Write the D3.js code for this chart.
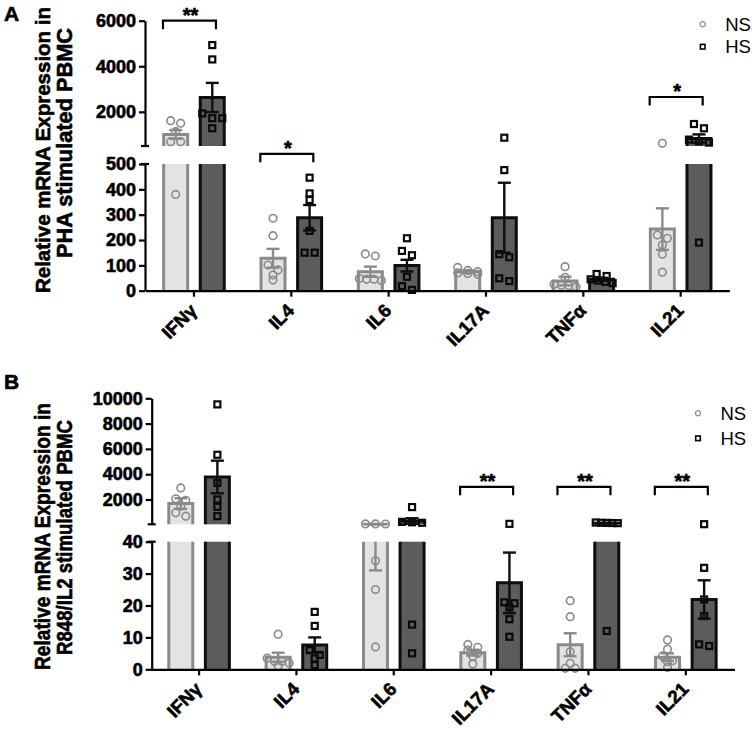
<!DOCTYPE html>
<html>
<head>
<meta charset="utf-8">
<script src="https://cdn.jsdelivr.net/npm/d3@7"></script>
<style>
  body { margin: 0; background: #fff; }
  svg { display: block; font-family: Arial, "Liberation Sans", Helvetica, sans-serif; }
  .heavy { stroke: #000; stroke-width: 0.6px; }
</style>
</head>
<body>
<div id="chart"></div>
<script>
// categories
var cytokines = ['IFNγ', 'IL4', 'IL6', 'IL17A', 'TNFα', 'IL21'];
var groupNames = ['NS', 'HS'];

// panel A - PHA stimulated PBMC
var phaNsMean = [1010, 128, 75, 75, 38, 243];
var phaNsSem  = [190, 37, 20, 5, 17, 82];
var phaHsMean = [2630, 288, 99, 288, 45, 830];
var phaHsSem  = [640, 50, 23, 138, 6, 180];
var phaNsPoints = [
  [1610, 1500, 690, 690, 1130, 380],
  [286, 217, 101, 82, 62, 42],
  [145, 137, 45, 45, 40, 48],
  [92, 70, 75, 68, 80, 65],
  [95, 53, 20, 25, 15, 22],
  [618, 207, 220, 180, 144, 73]
];
var phaHsPoints = [
  [4930, 4300, 1930, 1720, 1720, 1280],
  [446, 384, 358, 236, 150, 150],
  [207, 157, 140, 55, 18, 3],
  [864, 476, 144, 132, 38, 49],
  [66, 58, 45, 40, 30, 35],
  [1277, 1466, 780, 700, 650, 190]
];
var phaUpperTicks = [2000, 4000, 6000];
var phaLowerTicks = [0, 100, 200, 300, 400, 500];
var phaSigCats  = ['IFNγ', 'IL4', 'IL21'];
var phaSigStars = ['**', '*', '*'];
var phaSigLevel = [6000, 540, 2650];
var phaSigSeg   = ['upper', 'lower', 'upper'];

// panel B - R848/IL2 stimulated PBMC
var rNsMean = [1680, 3.8, 45, 5.2, 7.7, 3.8];
var rNsSem  = [420, 1.4, 14, 0.9, 3.6, 1.2];
var rHsMean = [3780, 7.6, 300, 27.1, 130, 21.9];
var rHsSem  = [1290, 2.4, 220, 9.5, 25, 6];
var rNsPoints = [
  [2917, 2050, 1940, 1470, 951, 684],
  [11, 3.5, 2, 1, 2.5, 2.5],
  [70, 65, 68, 34, 25, 7],
  [6.9, 7.8, 6, 4, 1.7, 5],
  [21.5, 16.5, 5.5, 1.9, 0.3, 0.3],
  [9.2, 6.3, 4.2, 2.4, 2.7, 0.6]
];
var rHsPoints = [
  [9520, 5536, 3311, 2000, 1420, 685],
  [18, 13.6, 6, 4.5, 3.4, 1.3],
  [1400, 230, 200, 160, 14, 5],
  [75, 21, 20.7, 19.4, 15.7, 10.2],
  [180, 150, 130, 160, 140, 12],
  [50, 31.8, 21.9, 16.7, 7.3, 7.8]
];
var rUpperTicks = [2000, 4000, 6000, 8000, 10000];
var rLowerTicks = [0, 10, 20, 30, 40];
var rSigCats  = ['IL17A', 'TNFα', 'IL21'];
var rSigStars = ['**', '**', '**'];
var rSigLevel = [3000, 3000, 3000];
var rSigSeg   = ['upper', 'upper', 'upper'];

var W = 756, H = 732;
var svg = d3.select('#chart').append('svg')
  .attr('width', W).attr('height', H);

var panels = [
  {
    tag: 'A', tagY: 21,
    title: ['Relative mRNA Expression in', 'PHA stimulated PBMC'],
    titleSize: [21, 22.5], titleX: [50, 72], titleY: [150, 143], titleLen: [286, 230],
    ns: [phaNsMean, phaNsSem, phaNsPoints], hs: [phaHsMean, phaHsSem, phaHsPoints],
    upper: { domain: [500, 6000], range: [146, 20.7], ticks: phaUpperTicks },
    lower: { domain: [0, 500], range: [290.7, 164], ticks: phaLowerTicks },
    bandStart: 145.3, step: 97.34, axisX: 145,
    sig: [phaSigCats, phaSigStars, phaSigLevel, phaSigSeg],
    legendX: 702.7, legendY: 24.3, legendGap: 22.4
  },
  {
    tag: 'B', tagY: 389,
    title: ['Relative mRNA Expression in', 'R848/IL2 stimulated PBMC'],
    titleSize: [21.5, 21.5], titleX: [50, 71.7], titleY: [536.5, 537.5], titleLen: [267, 235],
    ns: [rNsMean, rNsSem, rNsPoints], hs: [rHsMean, rHsSem, rHsPoints],
    upper: { domain: [40, 10000], range: [524.3, 398.3], ticks: rUpperTicks },
    lower: { domain: [0, 40], range: [669.3, 541.7], ticks: rLowerTicks },
    bandStart: 150.4, step: 97.35, axisX: 151.7,
    sig: [rSigCats, rSigStars, rSigLevel, rSigSeg],
    legendX: 698, legendY: 413.3, legendGap: 25
  }
];

var groupStyle = {
  NS: { dx: -18.3, fill: '#e3e3e3', stroke: '#8a8a8a' },
  HS: { dx: 18.3, fill: '#5c5c5c', stroke: '#0e0e0e' }
};
var barW = 24;

panels.forEach(drawPanel);

function drawPanel(p) {
  var g = svg.append('g');

  var x = d3.scaleBand()
    .domain(cytokines)
    .range([p.bandStart, p.bandStart + p.step * cytokines.length]);

  var segs = {
    lower: { min: p.lower.domain[0], max: p.lower.domain[1],
             y: d3.scaleLinear().domain(p.lower.domain).range(p.lower.range) },
    upper: { min: p.upper.domain[0], max: p.upper.domain[1],
             y: d3.scaleLinear().domain(p.upper.domain).range(p.upper.range) }
  };
  var segList = [segs.lower, segs.upper];
  function yv(v) { return v <= segs.lower.max ? segs.lower.y(v) : segs.upper.y(v); }
  function cx(cat, grp) { return x(cat) + x.bandwidth() / 2 + groupStyle[grp].dx; }

  // ---- bars
  var barPieces = [];
  groupNames.forEach(function(grp) {
    var mean = (grp === 'NS' ? p.ns : p.hs)[0];
    cytokines.forEach(function(cat, i) {
      segList.forEach(function(s) {
        if (mean[i] <= s.min) return;
        var top = Math.min(mean[i], s.max);
        barPieces.push({ grp: grp, cx: cx(cat, grp), y0: s.y(s.min), y1: s.y(top), closed: mean[i] <= s.max });
      });
    });
  });

  g.selectAll('rect.bar').data(barPieces).join('rect')
    .attr('class', 'bar')
    .attr('x', function(d) { return d.cx - barW / 2; })
    .attr('y', function(d) { return d.y1; })
    .attr('width', barW)
    .attr('height', function(d) { return d.y0 - d.y1; })
    .attr('fill', function(d) { return groupStyle[d.grp].fill; });

  g.selectAll('path.barline').data(barPieces).join('path')
    .attr('class', 'barline')
    .attr('d', function(d) {
      var l = d.cx - barW / 2, r = d.cx + barW / 2;
      var pth = d3.path();
      pth.moveTo(l, d.y0); pth.lineTo(l, d.y1);
      if (d.closed) pth.lineTo(r, d.y1); else pth.moveTo(r, d.y1);
      pth.lineTo(r, d.y0);
      return pth.toString();
    })
    .attr('fill', 'none')
    .attr('stroke', function(d) { return groupStyle[d.grp].stroke; })
    .attr('stroke-width', 3);

  // ---- points (rows spread symmetrically like a column scatter)
  var pts = [];
  groupNames.forEach(function(grp) {
    var vals = (grp === 'NS' ? p.ns : p.hs)[2];
    cytokines.forEach(function(cat, i) {
      var c = cx(cat, grp);
      var items = vals[i].map(function(v) { return { grp: grp, v: v, y: yv(v) }; })
        .sort(function(a, b) { return a.y - b.y; });
      var rows = [];
      items.forEach(function(d) {
        var row = rows[rows.length - 1];
        if (row && Math.abs(d.y - row[0].y) < 5) row.push(d); else rows.push([d]);
      });
      rows.forEach(function(row) {
        var n = row.length;
        var sp = n > 1 ? Math.min(10, 22 / (n - 1)) : 0;
        row.forEach(function(d, k) { d.x = c + (k - (n - 1) / 2) * sp; pts.push(d); });
      });
    });
  });

  g.selectAll('circle.pt').data(pts.filter(function(d) { return d.grp === 'NS'; })).join('circle')
    .attr('class', 'pt')
    .attr('cx', function(d) { return d.x; })
    .attr('cy', function(d) { return d.y; })
    .attr('r', 3.8)
    .attr('fill', 'none')
    .attr('stroke', '#8a8a8a')
    .attr('stroke-width', 1.6);

  g.selectAll('rect.pt').data(pts.filter(function(d) { return d.grp === 'HS'; })).join('rect')
    .attr('class', 'pt')
    .attr('x', function(d) { return d.x - 3; })
    .attr('y', function(d) { return d.y - 3; })
    .attr('width', 6).attr('height', 6)
    .attr('fill', 'none')
    .attr('stroke', '#0a0a0a')
    .attr('stroke-width', 2.2);

  // ---- error bars (mean ± SEM), split over the axis break
  var errLines = [], errCaps = [];
  groupNames.forEach(function(grp) {
    var src = grp === 'NS' ? p.ns : p.hs;
    cytokines.forEach(function(cat, i) {
      var c = cx(cat, grp), lo = src[0][i] - src[1][i], hi = src[0][i] + src[1][i];
      segList.forEach(function(s) {
        var a = Math.max(lo, s.min), b = Math.min(hi, s.max);
        if (a >= b) return;
        errLines.push({ grp: grp, x: c, y0: s.y(a), y1: s.y(b) });
        if (lo >= s.min && lo <= s.max) errCaps.push({ grp: grp, x: c, y: s.y(lo) });
        if (hi >= s.min && hi <= s.max) errCaps.push({ grp: grp, x: c, y: s.y(hi) });
      });
    });
  });

  g.selectAll('line.err').data(errLines).join('line')
    .attr('class', 'err')
    .attr('x1', function(d) { return d.x; }).attr('x2', function(d) { return d.x; })
    .attr('y1', function(d) { return d.y0; }).attr('y2', function(d) { return d.y1; })
    .attr('stroke', function(d) { return groupStyle[d.grp].stroke; })
    .attr('stroke-width', 2.4);

  g.selectAll('line.cap').data(errCaps).join('line')
    .attr('class', 'cap')
    .attr('x1', function(d) { return d.x - 6.5; }).attr('x2', function(d) { return d.x + 6.5; })
    .attr('y1', function(d) { return d.y; }).attr('y2', function(d) { return d.y; })
    .attr('stroke', function(d) { return groupStyle[d.grp].stroke; })
    .attr('stroke-width', 2.4);

  // ---- axes
  [['lower', p.lower.ticks], ['upper', p.upper.ticks]].forEach(function(a) {
    var ax = g.append('g')
      .attr('transform', 'translate(' + p.axisX + ',0)')
      .call(d3.axisLeft(segs[a[0]].y).tickValues(a[1]).tickFormat(d3.format('d'))
        .tickSize(6).tickSizeOuter(0).tickPadding(3));
    ax.select('.domain').attr('stroke', '#000').attr('stroke-width', 2.2);
    ax.selectAll('.tick line').attr('stroke', '#000').attr('stroke-width', 2.2);
    ax.selectAll('.tick text')
      .attr('class', 'heavy')
      .attr('fill', '#000')
      .style('font-size', '18px')
      .style('font-weight', 'bold')
      .style('font-family', 'Arial, "Liberation Sans", sans-serif');
  });
  // small caps at the break ends
  [segs.upper.y(segs.upper.min), segs.lower.y(segs.lower.max)].forEach(function(yy) {
    g.append('line')
      .attr('x1', p.axisX - 4).attr('x2', p.axisX + 4)
      .attr('y1', yy).attr('y2', yy)
      .attr('stroke', '#000').attr('stroke-width', 2.2);
  });

  var baseY = segs.lower.y(0);
  var xa = g.append('g')
    .attr('transform', 'translate(0,' + baseY + ')')
    .call(d3.axisBottom(x).tickSize(6).tickSizeOuter(0));
  xa.select('.domain').attr('stroke', '#000').attr('stroke-width', 2.2);
  xa.selectAll('.tick line').attr('stroke', '#000').attr('stroke-width', 2.2);
  xa.selectAll('.tick text')
    .attr('class', 'heavy')
    .attr('y', 0).attr('dy', 0)
    .attr('transform', 'translate(4,21) rotate(-45)')
    .style('text-anchor', 'end')
    .attr('fill', '#000')
    .style('font-size', '18.5px')
    .style('font-weight', 'bold')
    .style('font-family', 'Arial, "Liberation Sans", sans-serif');

  // ---- significance brackets
  var sig = p.sig[0].map(function(cat, i) {
    var t = x(cat) + x.bandwidth() / 2;
    return { l: t - 31, r: t + 22, y: segs[p.sig[3][i]].y(p.sig[2][i]), stars: p.sig[1][i] };
  });
  g.selectAll('path.sig').data(sig).join('path')
    .attr('class', 'sig')
    .attr('d', function(d) {
      return 'M' + d.l + ',' + (d.y + 8.5) + 'V' + d.y + 'H' + d.r + 'V' + (d.y + 8.5);
    })
    .attr('fill', 'none').attr('stroke', '#000').attr('stroke-width', 2.2);
  g.selectAll('text.stars').data(sig).join('text')
    .attr('class', 'stars heavy')
    .attr('x', function(d) { return (d.l + d.r) / 2 + 1; })
    .attr('y', function(d) { return d.y + 1; })
    .attr('text-anchor', 'middle')
    .style('font-size', '20px').style('font-weight', 'bold')
    .text(function(d) { return d.stars; });

  // ---- y titles
  p.title.forEach(function(t, i) {
    g.append('text')
      .attr('class', 'heavy')
      .attr('transform', 'translate(' + p.titleX[i] + ',' + p.titleY[i] + ') rotate(-90)')
      .attr('text-anchor', 'middle')
      .attr('textLength', p.titleLen[i])
      .attr('lengthAdjust', 'spacingAndGlyphs')
      .style('font-size', p.titleSize[i] + 'px')
      .style('font-weight', 'bold')
      .text(t);
  });

  // ---- panel tag
  g.append('text')
    .attr('class', 'heavy')
    .attr('x', 4).attr('y', p.tagY)
    .style('font-size', '21px').style('font-weight', 'bold')
    .text(p.tag);

  // ---- legend
  var lg = g.append('g').attr('transform', 'translate(' + p.legendX + ',' + p.legendY + ')');
  lg.append('circle').attr('cx', 0).attr('cy', 0).attr('r', 2.6)
    .attr('fill', 'none').attr('stroke', '#8a8a8a').attr('stroke-width', 1.2);
  lg.append('rect').attr('x', -2.3).attr('y', p.legendGap - 2.3).attr('width', 4.6).attr('height', 4.6)
    .attr('fill', 'none').attr('stroke', '#000').attr('stroke-width', 1.6);
  groupNames.forEach(function(name, i) {
    lg.append('text')
      .attr('x', 22.5).attr('y', i * p.legendGap)
      .attr('dy', '0.36em')
      .style('font-size', '18.5px')
      .text(name);
  });
}
</script>
</body>
</html>
